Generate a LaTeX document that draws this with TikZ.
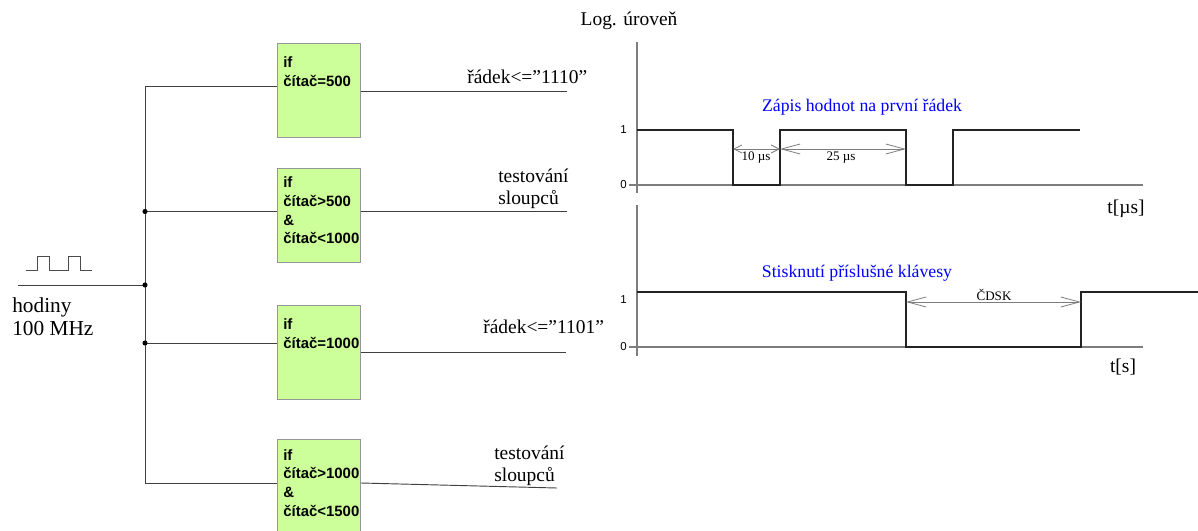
\documentclass[tikz,border=0pt]{standalone}
\usepackage{fontspec}
\setmainfont{Liberation Serif}
\setsansfont{Liberation Sans}
\usetikzlibrary{arrows.meta, positioning}

\definecolor{boxgreen}{RGB}{204,255,153}
\definecolor{boxedge}{RGB}{150,150,150}
\definecolor{axisgray}{RGB}{125,125,125}
\definecolor{signal}{RGB}{35,35,35}

\tikzset{
  condbox/.style={draw=boxedge, fill=boxgreen, line width=0.9pt, minimum width=62pt, minimum height=71pt, inner sep=0pt},
  condtext/.style={anchor=north west, inner sep=0pt, align=left, font=\sffamily\bfseries\fontsize{11.2}{14}\selectfont},
  wire/.style={draw=black!75, line width=0.7pt},
  outlabel/.style={anchor=base west, inner sep=0pt, align=left, font=\fontsize{14.6}{16.5}\selectfont},
  axis/.style={draw=axisgray, line width=0.8pt},
  wave/.style={draw=signal, line width=1.5pt},
  lvl/.style={font=\sffamily\fontsize{8.6}{10}\selectfont, inner sep=0pt},
  dimtext/.style={font=\fontsize{9.8}{11}\selectfont, inner sep=0pt},
  dimline/.style={draw=axisgray, line width=0.6pt, {Straight Barb[length=14pt,width=7.5pt]}-{Straight Barb[length=14pt,width=7.5pt]}},
  dimshort/.style={draw=axisgray, line width=0.6pt, {Straight Barb[length=6pt,width=6pt]}-{Straight Barb[length=6pt,width=6pt]}},
  note/.style={text=blue, font=\fontsize{13.3}{15}\selectfont, inner sep=0pt}
}

\begin{document}
\begin{tikzpicture}[x=0.75pt, y=-0.75pt]
  \useasboundingbox (0,0) rectangle (1198,531);

  % clock input
  \draw[draw=black!70, line width=0.7pt] (26,270) -- (37,270) -- (37,256) -- (49,256) -- (49,270)
    -- (68,270) -- (68,256) -- (80,256) -- (80,270) -- (92,270);
  \node[anchor=north west, align=left, inner sep=0pt, font=\fontsize{16}{17.3}\selectfont] (clk) at (12,297) {hodiny\\100 MHz};

  \coordinate (clkin) at (18,285);
  \coordinate (bustop) at (145,86);
  \coordinate (j2) at (145,211.5);
  \coordinate (jin) at (145,285);
  \coordinate (j3) at (145,343);
  \coordinate (busbot) at (145,483);

  % condition boxes
  \node[condbox] (c1) at (319,90.5) {};
  \node[condbox] (c2) at (319,215.5) {};
  \node[condbox] (c3) at (319,352.5) {};
  \node[condbox] (c4) at (319,486.5) {};

  \node[condtext] (t1) at ([xshift=4.5pt, yshift=-10.5pt]c1.north west) {if\\čítač=500};
  \node[condtext] (t2) at ([xshift=4.5pt, yshift=-7pt]c2.north west) {if\\čítač>500\\\&\\čítač<1000};
  \node[condtext] (t3) at ([xshift=4.5pt, yshift=-10.5pt]c3.north west) {if\\čítač=1000};
  \node[condtext] (t4) at ([xshift=4.5pt, yshift=-8pt]c4.north west) {if\\čítač>1000\\\&\\čítač<1500};

  % bus and branches
  \draw[wire] (clkin) -- (jin);
  \draw[wire] (bustop -| c1.west) -- (bustop) -- (busbot) -- (busbot -| c4.west);
  \draw[wire] (j2) -- (j2 -| c2.west);
  \draw[wire] (j3) -- (j3 -| c3.west);
  \foreach \j in {j2, jin, j3}
    \fill[black] (\j) circle (1.9pt);

  % outputs
  \coordinate (o1) at (567,91);
  \coordinate (o2) at (567,211.5);
  \coordinate (o3) at (566,352);
  \coordinate (o4) at (557,488);
  \draw[wire] (c1.east |- o1) -- (o1);
  \draw[wire] (c2.east |- o2) -- (o2);
  \draw[wire] (c3.east |- o3) -- (o3);
  \draw[wire] (c4.east |- busbot) -- (o4);

  \node[outlabel] (r1) at (467,84) {řádek<=”1110”};
  \node[outlabel] (s2) at (498,204) {testování\\sloupců};
  \node[outlabel] (r3) at (483,333) {řádek<=”1101”};
  \node[outlabel] (s4) at (494,481) {testování\\sloupců};

  % upper timing diagram
  \node[font=\fontsize{14.6}{16}\selectfont, inner sep=0pt] (logu) at (629,21) {Log. úroveň};
  \draw[axis] (637,42) -- (637,193);
  \draw[axis] (629,185) -- (1143,185);
  \node[lvl, anchor=east] (h1) at (627,130) {1};
  \node[lvl, anchor=east] (l1) at (627,185) {0};
  \coordinate (a1) at (733,149);
  \coordinate (a2) at (780,149);
  \coordinate (a3) at (906,149);
  \draw[wave] (637,130) -- (733,130) -- (733,185) -- (780,185) -- (780,130) -- (906,130)
    -- (906,185) -- (953,185) -- (953,130) -- (1080,130);
  \draw[dimshort] (a1) -- (a2);
  \draw[dimline] (a2) -- (a3);
  \node[dimtext] at (756,158) {10 µs};
  \node[dimtext] at (841,158) {25 µs};
  \node[note] (zapis) at (862,107) {Zápis hodnot na první řádek};
  \node[font=\fontsize{14.6}{16}\selectfont, inner sep=0pt] (tus) at (1126,209) {t[µs]};

  % lower timing diagram
  \draw[axis] (637,205) -- (637,356);
  \draw[axis] (629,347) -- (1143,347);
  \node[lvl, anchor=east] (h2) at (627,300) {1};
  \node[lvl, anchor=east] (l2) at (627,347) {0};
  \coordinate (b1) at (906,302);
  \coordinate (b2) at (1081,302);
  \draw[wave] (637,292) -- (906,292) -- (906,347) -- (1081,347) -- (1081,292) -- (1198,292);
  \draw[dimline] (b1) -- (b2);
  \node[dimtext] at (994,295) {ČDSK};
  \node[note] (stisk) at (857,273) {Stisknutí příslušné klávesy};
  \node[font=\fontsize{14.6}{16}\selectfont, inner sep=0pt] (ts) at (1123,367) {t[s]};
\end{tikzpicture}
\end{document}
